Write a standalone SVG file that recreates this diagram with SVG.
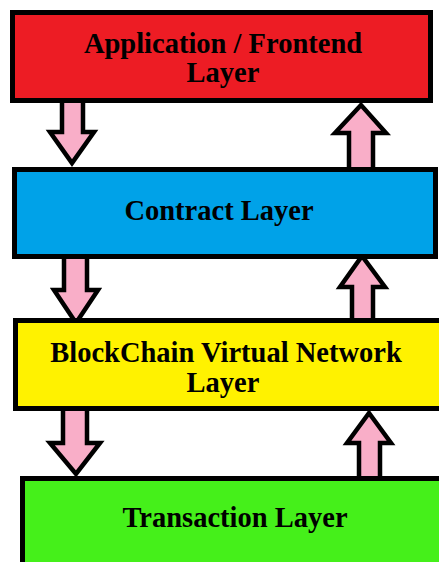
<svg xmlns="http://www.w3.org/2000/svg" width="439" height="562" viewBox="0 0 439 562">
<style>
.box{stroke:#000;stroke-width:5}
.arr{fill:#F9AEC8;stroke:#000;stroke-width:4.5;stroke-linejoin:miter}
.t{font-family:"Liberation Serif",serif;font-weight:bold;font-size:28.5px;fill:#000;text-anchor:middle}
</style>
<rect width="439" height="562" fill="#fff"/>
<g id="connectors">
<polygon class="arr" points="62,100 62,132 50,132 72,163 94,132 83,132 83,100"/>
<polygon class="arr" points="349,170 349,133 335,133 361,105 386,133 373,133 373,170"/>
<polygon class="arr" points="64,256 64,290 54,290 76,323 98,290 87,290 87,256"/>
<polygon class="arr" points="352,321 352,287 340,287 362,256 385,287 373,287 373,321"/>
<polygon class="arr" points="63,408 63,443 50,443 76,474 100,443 87,443 87,408"/>
<polygon class="arr" points="359,479 359,443 347,443 369,413 391,443 380,443 380,479"/>
</g>
<g id="app">
<rect class="box" x="12.5" y="12.5" width="418" height="88" fill="#ED1C24"/>
<text class="t" x="223" y="53">Application / Frontend</text>
<text class="t" x="223" y="82">Layer</text>
</g>
<g id="contract">
<rect class="box" x="14.5" y="169.5" width="421" height="87" fill="#00A2E8"/>
<text class="t" x="219" y="220">Contract Layer</text>
</g>
<g id="bvn">
<rect class="box" x="15.5" y="320.5" width="440" height="88" fill="#FFF200"/>
<text class="t" x="226" y="362">BlockChain Virtual Network</text>
<text class="t" x="223" y="392">Layer</text>
</g>
<g id="tx">
<rect class="box" x="22.5" y="478.5" width="440" height="100" fill="#45F01A"/>
<text class="t" x="235" y="527">Transaction Layer</text>
</g>
</svg>
